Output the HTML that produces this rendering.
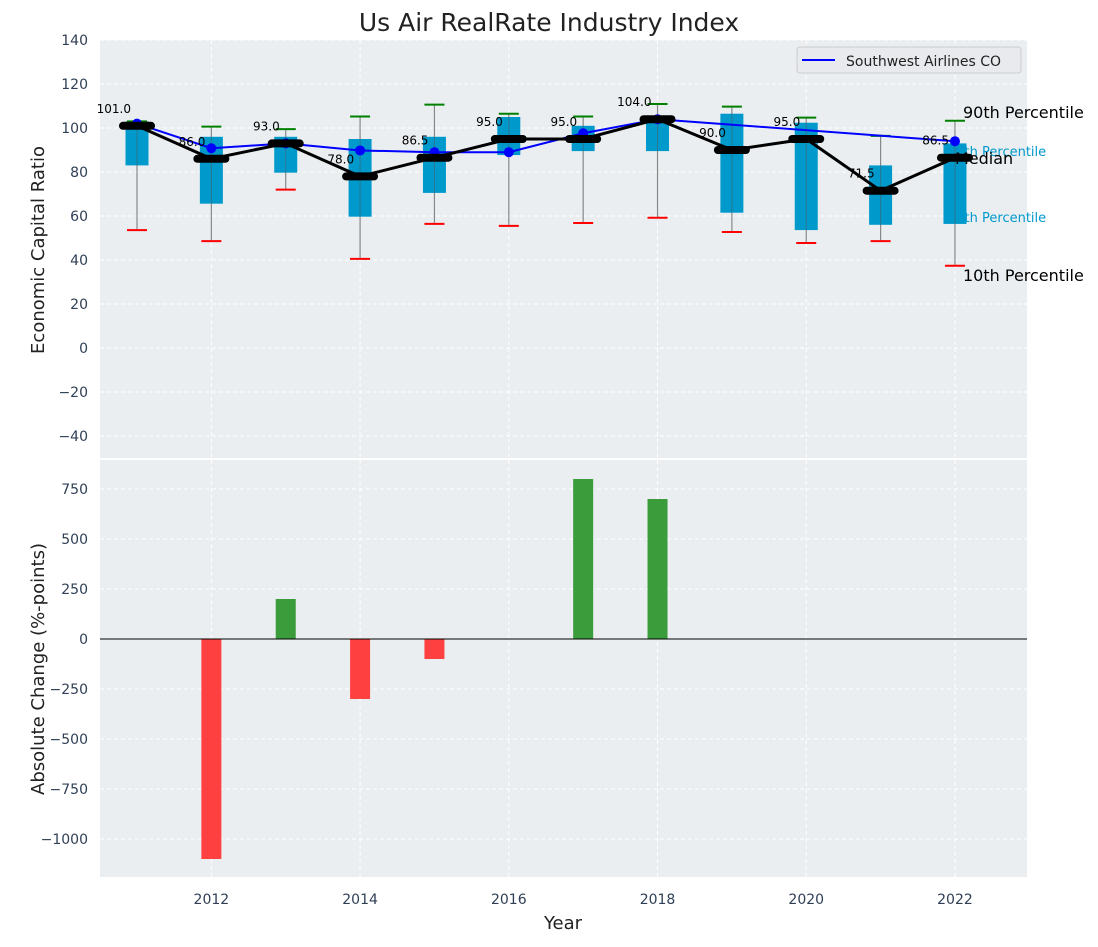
<!DOCTYPE html>
<html><head><meta charset="utf-8"><style>
body{margin:0;background:#fff;font-family:"Liberation Sans","DejaVu Sans",sans-serif;}
svg text{font-family:"DejaVu Sans","Liberation Sans",sans-serif;}
</style></head><body>
<svg id="chart" width="1098" height="942" xmlns="http://www.w3.org/2000/svg"></svg>
<script>
const years=[2011,2012,2013,2014,2015,2016,2017,2018,2019,2020,2021,2022];
const medians=[101,86,93,78,86.5,95,95,104,90,95,71.5,86.5];
const q75=[103,96,96,95,96,105,101,104.5,106.5,102.4,83,93];
const q25=[83,65.6,79.7,59.7,70.5,87.7,89.5,89.5,61.5,53.6,56,56.4];
const p90=[103,100.6,99.5,105.2,110.6,106.5,105.2,110.9,109.7,104.7,96.4,103.3];
const p10=[53.6,48.6,72,40.5,56.4,55.5,56.8,59.2,52.7,47.7,48.6,37.4];
const southwest=[102,90.8,93,89.8,89,89,97.6,104,null,null,null,94];
const changes=[0,-1100,200,-300,-100,0,800,700,0,0,0,0];
const topTicks=[-40,-20,0,20,40,60,80,100,120,140];
const botTicks=[-1000,-750,-500,-250,0,250,500,750];
const xTicks=[2012,2014,2016,2018,2020,2022];

const NS="http://www.w3.org/2000/svg";
const svg=document.getElementById('chart');
function el(tag,attrs,parent){const e=document.createElementNS(NS,tag);for(const k in attrs)e.setAttribute(k,attrs[k]);(parent||svg).appendChild(e);return e;}
const L=100,R=1027;
const x=v=>137+(v-2011)*74.36;
const yT=v=>40+(140-v)*2.2;
const yB=v=>639-v*0.2;

let e=el('rect',{x:L,y:40,width:R-L,height:418,fill:'#eaeef0'});


e=el('rect',{x:L,y:460,width:R-L,height:417,fill:'#eaeef0'});



for(const t of topTicks){
 e=el('line',{x1:L,x2:R,y1:yT(t),y2:yT(t),stroke:'#fff','stroke-dasharray':'4,3','stroke-width':1});
 
 
 e=el('text',{x:L-12,y:yT(t)+5,'text-anchor':'end','font-size':14,fill:'#2f3f55'});
 e.textContent=t<0?'\u2212'+(-t):t;
 
 
}
for(const t of botTicks){
 e=el('line',{x1:L,x2:R,y1:yB(t),y2:yB(t),stroke:'#fff','stroke-dasharray':'4,3','stroke-width':1});
 
 
 e=el('text',{x:L-12,y:yB(t)+5,'text-anchor':'end','font-size':14,fill:'#2f3f55'});
 e.textContent=t<0?'\u2212'+(-t):t;
 
 
}
for(const t of xTicks){
 e=el('line',{x1:x(t),x2:x(t),y1:40,y2:458,stroke:'#fff','stroke-dasharray':'4,3'});
 
 
 e=el('line',{x1:x(t),x2:x(t),y1:460,y2:877,stroke:'#fff','stroke-dasharray':'4,3'});
 
 
 e=el('text',{x:x(t),y:904,'text-anchor':'middle','font-size':14,fill:'#2f3f55'});
 e.textContent=t;
 
 
}

e=el('text',{x:948,y:156,'font-size':13,fill:'#0099cc'});
e.textContent='75th Percentile';


e=el('text',{x:948,y:222,'font-size':13,fill:'#0099cc'});
e.textContent='25th Percentile';



years.forEach((yr,i)=>{
 const cx=x(yr);
 e=el('line',{x1:cx,x2:cx,y1:yT(p10[i]),y2:yT(p90[i]),stroke:'#888','stroke-width':1.2});
 
 
 e=el('rect',{x:cx-11.5,y:yT(q75[i]),width:23,height:yT(q25[i])-yT(q75[i]),fill:'#0099cc'});
 
 
 e=el('line',{x1:cx,x2:cx,y1:yT(q75[i]),y2:yT(q25[i]),stroke:'#555','stroke-width':1,opacity:0.5});
 
 
 e=el('line',{x1:cx-10,x2:cx+10,y1:yT(p90[i]),y2:yT(p90[i]),stroke:'green','stroke-width':2});
 
 
 e=el('line',{x1:cx-10,x2:cx+10,y1:yT(p10[i]),y2:yT(p10[i]),stroke:'red','stroke-width':2});
 
 
});

let pts=[];years.forEach((yr,i)=>{if(southwest[i]!==null)pts.push(x(yr)+','+yT(southwest[i]));});
e=el('polyline',{points:pts.join(' '),fill:'none',stroke:'blue','stroke-width':2});


years.forEach((yr,i)=>{if(southwest[i]===null)return;
 e=el('circle',{cx:x(yr),cy:yT(southwest[i]),r:5,fill:'blue'});
 
 
});

e=el('polyline',{points:years.map((yr,i)=>x(yr)+','+yT(medians[i])).join(' '),fill:'none',stroke:'#000','stroke-width':3});


years.forEach((yr,i)=>{
 e=el('line',{x1:x(yr)-14,x2:x(yr)+14,y1:yT(medians[i]),y2:yT(medians[i]),stroke:'#000','stroke-width':8,'stroke-linecap':'round'});
 
 
 e=el('text',{x:x(yr)-6,y:yT(medians[i])-13,'text-anchor':'end','font-size':12,fill:'#000'});
 e.textContent=medians[i].toFixed(1);
 
 
});

e=el('text',{x:963,y:118,'font-size':16,fill:'#000'});e.textContent='90th Percentile';


e=el('text',{x:955,y:164,'font-size':16,fill:'#000'});e.textContent='Median';


e=el('text',{x:963,y:281,'font-size':16,fill:'#000'});e.textContent='10th Percentile';



const lg=el('g',{});


el('rect',{x:797,y:47,width:224,height:26,rx:3,fill:'#e8eaee',stroke:'#ccc'},lg);
el('line',{x1:802,x2:835,y1:60,y2:60,stroke:'blue','stroke-width':2},lg);
e=el('text',{x:846,y:66,'font-size':14,fill:'#222'},lg);e.textContent='Southwest Airlines CO';



years.forEach((yr,i)=>{
 const v=changes[i];if(v===0)return;
 e=el('rect',{x:x(yr)-10,y:Math.min(yB(0),yB(v)),width:20,height:Math.abs(yB(v)-yB(0)),fill:v>0?'#3a9c3a':'#ff4040'});
 
 
});
e=el('line',{x1:L,x2:R,y1:yB(0),y2:yB(0),stroke:'#000','stroke-width':1});



e=el('text',{x:549,y:31,'text-anchor':'middle','font-size':25,fill:'#222'});e.textContent='Us Air RealRate Industry Index';


e=el('text',{x:0,y:0,'text-anchor':'middle','font-size':18,fill:'#222',transform:'translate(44,250) rotate(-90)'});e.textContent='Economic Capital Ratio';


e=el('text',{x:0,y:0,'text-anchor':'middle','font-size':18,fill:'#222',transform:'translate(44,669) rotate(-90)'});e.textContent='Absolute Change (%-points)';


e=el('text',{x:563,y:929,'text-anchor':'middle','font-size':18,fill:'#222'});e.textContent='Year';


</script>
</body></html>
